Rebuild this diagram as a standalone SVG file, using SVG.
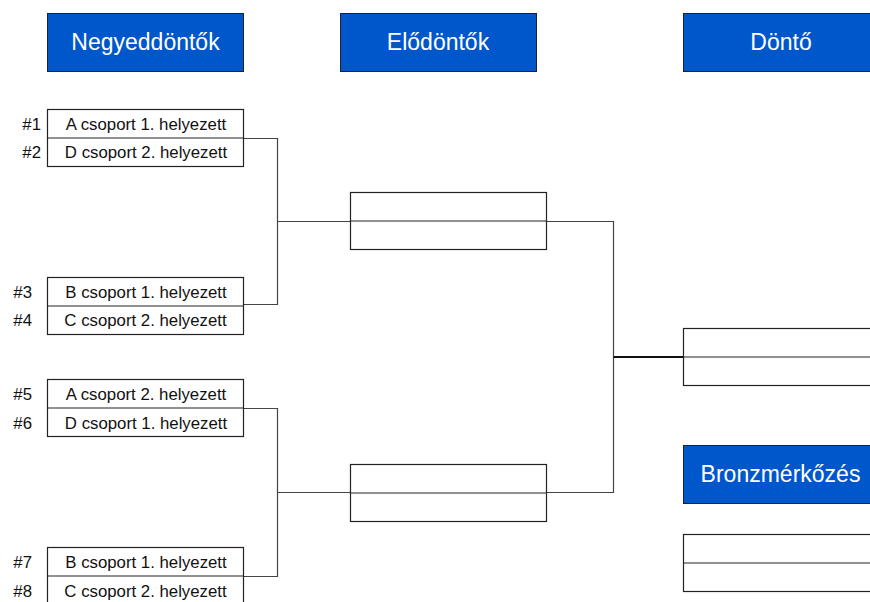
<svg xmlns="http://www.w3.org/2000/svg" width="870" height="602" viewBox="0 0 870 602">
<style>
.hdr{fill:#0057cc;stroke:#222;stroke-width:1}
.ht{fill:#fff;font-family:"Liberation Sans",Arial,sans-serif;font-size:23px;text-anchor:middle}
.box{fill:#fff;stroke:#222;stroke-width:1.2}
.bt{fill:#111;font-family:"Liberation Sans",Arial,sans-serif;font-size:16.8px;text-anchor:middle}
.num{fill:#111;font-family:"Liberation Sans",Arial,sans-serif;font-size:16.8px;text-anchor:end}
.con{fill:none;stroke:#444;stroke-width:1.2}
</style>
<rect width="870" height="602" fill="#fff"/>
<g id="h-negyed"><rect class="hdr" x="47.5" y="13.5" width="196" height="58"/><text class="ht" x="145.5" y="50">Negyeddöntők</text></g>
<g id="h-elo"><rect class="hdr" x="340.5" y="13.5" width="196" height="58"/><text class="ht" x="438" y="50">Elődöntők</text></g>
<g id="h-donto"><rect class="hdr" x="683.5" y="13.5" width="196" height="58"/><text class="ht" x="781" y="50">Döntő</text></g>
<g id="h-bronz"><rect class="hdr" x="683.5" y="445.5" width="196" height="58"/><text class="ht" x="780.5" y="482">Bronzmérkőzés</text></g>

<g id="connectors">
<path class="con" d="M243.5 138.5H277.5V304.5H243.5"/>
<path class="con" d="M277.5 221.5H350.5"/>
<path class="con" d="M243.5 408.5H277.5V576.5H243.5"/>
<path class="con" d="M277.5 492.5H350.5"/>
<path class="con" d="M546.5 221.5H613.5V492.5H546.5"/>
<path class="con" d="M613.5 357H683.5" style="stroke:#111;stroke-width:2"/>
</g>

<g id="qf1"><rect class="box" x="47.5" y="109.5" width="196" height="57"/><line class="box" x1="47.5" y1="138" x2="243.5" y2="138"/>
<text class="num" x="41" y="129.5">#1</text><text class="bt" x="146" y="129.5">A csoport 1. helyezett</text>
<text class="num" x="41" y="157.5">#2</text><text class="bt" x="146" y="157.5">D csoport 2. helyezett</text></g>
<g id="qf2"><rect class="box" x="47.5" y="277.5" width="196" height="57"/><line class="box" x1="47.5" y1="306" x2="243.5" y2="306"/>
<text class="num" x="32" y="297.5">#3</text><text class="bt" x="146" y="297.5">B csoport 1. helyezett</text>
<text class="num" x="32" y="325.5">#4</text><text class="bt" x="145.5" y="325.5">C csoport 2. helyezett</text></g>
<g id="qf3"><rect class="box" x="47.5" y="379.5" width="196" height="57"/><line class="box" x1="47.5" y1="408" x2="243.5" y2="408"/>
<text class="num" x="32" y="399.5">#5</text><text class="bt" x="146" y="399.5">A csoport 2. helyezett</text>
<text class="num" x="32" y="428.5">#6</text><text class="bt" x="146" y="428.5">D csoport 1. helyezett</text></g>
<g id="qf4"><rect class="box" x="47.5" y="547.5" width="196" height="57"/><line class="box" x1="47.5" y1="576" x2="243.5" y2="576"/>
<text class="num" x="32" y="567.5">#7</text><text class="bt" x="146" y="567.5">B csoport 1. helyezett</text>
<text class="num" x="32" y="596.5">#8</text><text class="bt" x="145.5" y="596.5">C csoport 2. helyezett</text></g>

<g id="sf1"><rect class="box" x="350.5" y="192.5" width="196" height="57"/><line class="box" x1="350.5" y1="221" x2="546.5" y2="221"/></g>
<g id="sf2"><rect class="box" x="350.5" y="464.5" width="196" height="57"/><line class="box" x1="350.5" y1="493" x2="546.5" y2="493"/></g>
<g id="final"><rect class="box" x="683.5" y="328.5" width="196" height="57"/><line class="box" x1="683.5" y1="357" x2="879.5" y2="357"/></g>
<g id="bronze"><rect class="box" x="683.5" y="534.5" width="196" height="57"/><line class="box" x1="683.5" y1="563" x2="879.5" y2="563"/></g>
</svg>
